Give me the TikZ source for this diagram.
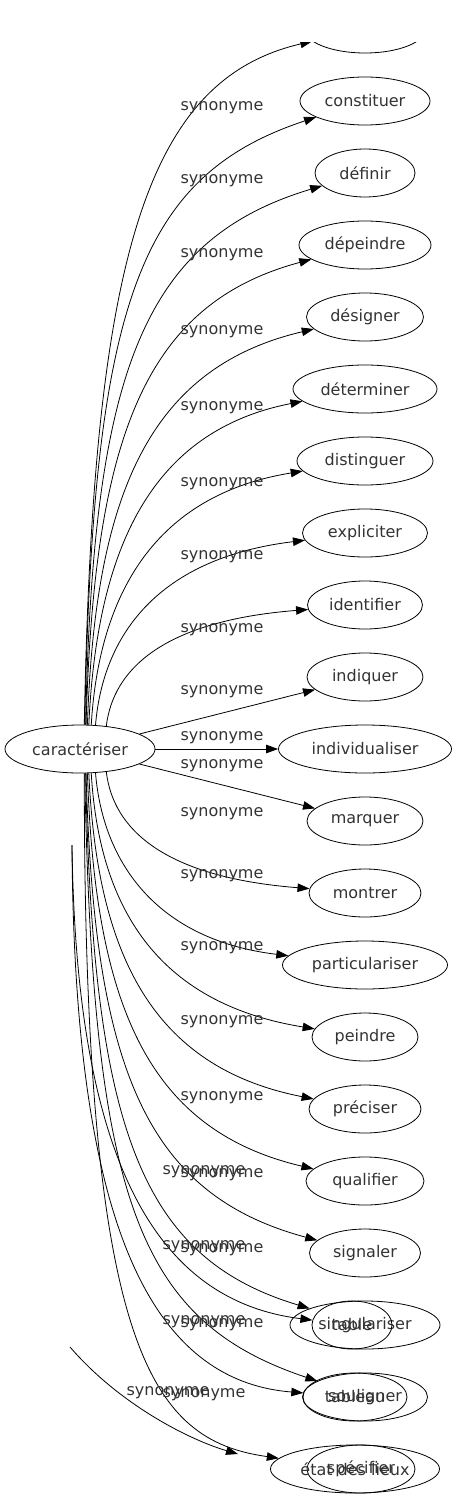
\documentclass[tikz,border=0pt]{standalone}
\usepackage{fontspec}
\setmainfont{DejaVu Sans}
\usetikzlibrary{arrows.meta, shapes.geometric}
\tikzset{
  word/.style={ellipse,draw,line width=0.8bp,minimum height=48bp,minimum width=#1,inner sep=0pt,
    text=black!80},
  rel/.style={inner sep=0pt,text=black!80},
  syn/.style={-{Triangle[length=12bp,width=8.5bp]},line width=0.8bp},
}

\begin{document}
\begin{tikzpicture}[x=1bp,y=-1bp,font=\fontsize{16bp}{19bp}\selectfont]
  \useasboundingbox (0,0) rectangle (456,1499);
  \clip (0,43) rectangle (456,1499);
  \node[word=150bp] (car) at (80,749) {caractériser};
  \foreach \y/\nm/\txt/\w in {29/top//121bp, 101/constituer/constituer/130bp, 173/definir/définir/100bp,
      245/depeindre/dépeindre/132bp, 317/designer/désigner/117bp, 389/determiner/déterminer/144bp,
      461/distinguer/distinguer/136bp, 533/expliciter/expliciter/125bp, 605/identifier/identifier/115bp,
      677/indiquer/indiquer/116bp, 749/individualiser/individualiser/173bp, 821/marquer/marquer/116bp,
      893/montrer/montrer/112bp, 965/particulariser/particulariser/165bp, 1037/peindre/peindre/106bp,
      1109/preciser/préciser/112bp, 1181/qualifier/qualifier/118bp, 1253/signaler/signaler/111bp,
      1325/singulariser/singulariser/150bp, 1397/souligner/souligner/125bp} {
    \node[word=\w] (\nm) at (365,\y) {\txt};
  }
  \node[word=108bp] (specifier) at (361,1469) {spécifier};
  % second graph drawn over the first
  \node[word=80bp] (table) at (352,1325) {table};
  \node[word=104bp] (tableau) at (355,1397) {tableau};
  \node[word=169bp] (etat) at (355,1469) {état des lieux};

  \foreach \nm/\ang/\xa/\ya/\xb/\yb in {top/80/93/260/145/80, constituer/79/93/305/138/176,
      definir/77/93/375/141/240, depeindre/76/94/438/144/304, designer/73/95/496/148/368,
      determiner/70/97/548/151/431, distinguer/65/99/594/155/495, expliciter/57/103/635/158/558,
      identifier/41/113/670/162/621, montrer/-41/113/828/162/877, particulariser/-57/103/864/158/940,
      peindre/-65/99/905/155/1003, preciser/-70/97/953/151/1067, qualifier/-73/95/1006/148/1130,
      signaler/-76/94/1065/144/1194, singulariser/-77/93/1130/141/1258, souligner/-79/93/1201/138/1321} {
    \draw[syn] (car.\ang) .. controls (\xa,\ya) and (\xb,\yb) .. (\nm);
  }
  \draw[syn] (car.-80) .. controls (84,1350) and (150,1440) .. (etat);
  \draw[syn] (car) -- (indiquer);
  \draw[syn] (car) -- (individualiser);
  \draw[syn] (car) -- (marquer);

  \coordinate (ls) at (72,845);
  \coordinate (lt) at (70,1347);
  \coordinate (lend) at (238,1454);
  \draw[syn] (ls) .. controls (76,1150) and (150,1300) .. (table);
  \draw[syn] (ls) .. controls (74,1200) and (140,1380) .. (tableau);
  \draw[syn] (lt) .. controls (120,1405) and (190,1440) .. (lend);

  \foreach \y in {33,108,181,255,332,408,484,557,630,692,738,766,814,876,948,1022,1098,1175,1250,1325}
    \node[rel] (la\y) at (222,\y) {synonyme};
  \foreach \y in {1172,1247,1322,1395}
    \node[rel] (lb\y) at (204,\y) {synonyme};
  \node[rel] (lc) at (168,1393) {synonyme};
\end{tikzpicture}
\end{document}
